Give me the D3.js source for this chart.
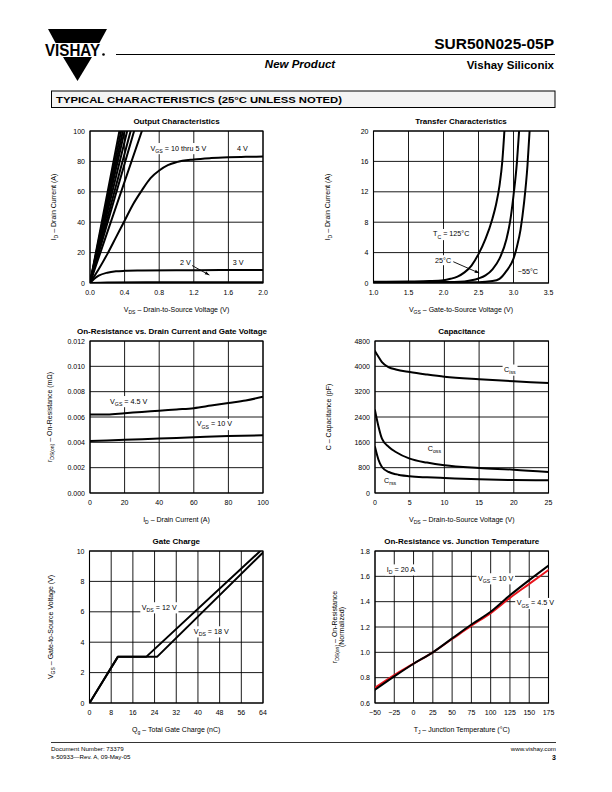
<!DOCTYPE html>
<html><head><meta charset="utf-8">
<script src="https://cdn.jsdelivr.net/npm/d3@7"></script>
<style>
body{margin:0;background:#fff}
svg{display:block}
text{font-family:"Liberation Sans",Arial,Helvetica,sans-serif;fill:#000}
</style>
</head><body>
<svg id="page" width="612" height="792"></svg>
<script>
// ---------------- DATA ----------------
// 1. Output characteristics (VDS V, ID A)
const outXTicks = [0, 0.4, 0.8, 1.2, 1.6, 2.0];
const outYTicks = [0, 20, 40, 60, 80, 100];
const outLinearVgs = ["10 V", "9 V", "8 V", "7 V", "6 V", "5 V", "4.8 V", "4.5 V"];
const outLinearEnd = [[0.34,100],[0.36,100],[0.38,100],[0.40,100],[0.43,100],[0.47,100],[0.51,100],[0.60,100]];
const out4V = [[0,0],[0.1,9],[0.2,19],[0.3,30],[0.4,41],[0.5,52],[0.6,61],[0.7,69],[0.8,74],[0.9,77.5],[1.0,79.5],[1.2,81.3],[1.4,82.2],[1.6,82.7],[1.8,83],[2.0,83.2]];
const out3V = [[0,0],[0.05,2.8],[0.1,4.8],[0.2,6.8],[0.3,7.7],[0.4,8.0],[0.6,8.2],[1.0,8.4],[1.5,8.5],[2.0,8.6]];
const out2V = [[0,0],[0.2,0.3],[1.0,0.45],[2.0,0.5]];

// 2. Transfer characteristics (VGS V, ID A)
const trXTicks = [1.0, 1.5, 2.0, 2.5, 3.0, 3.5];
const trYTicks = [0, 4, 8, 12, 16, 20];
const tr125 = [[1.0,0.15],[1.5,0.2],[1.8,0.25],[2.0,0.35],[2.1,0.55],[2.2,0.85],[2.3,1.4],[2.4,2.3],[2.5,3.8],[2.6,5.8],[2.7,8.5],[2.75,10.3],[2.8,12.8],[2.84,16],[2.87,20]];
const tr25 = [[1.0,0.1],[2.0,0.12],[2.3,0.2],[2.4,0.35],[2.5,0.6],[2.6,1.0],[2.7,1.8],[2.8,3.2],[2.9,5.8],[2.95,8],[3.0,11.5],[3.05,16],[3.08,20]];
const trM55 = [[1.0,0.05],[2.5,0.1],[2.7,0.25],[2.8,0.55],[2.9,1.6],[3.0,3.2],[3.05,4.8],[3.1,7],[3.15,10.5],[3.2,15.5],[3.23,20]];

// 3. On-resistance vs drain current (ID A, rDS ohm)
const rdXTicks = [0, 20, 40, 60, 80, 100];
const rdYTicks = [0, 0.002, 0.004, 0.006, 0.008, 0.010, 0.012];
const rd45 = [[0,0.0062],[10,0.0062],[20,0.0063],[30,0.0064],[40,0.0065],[50,0.0066],[60,0.0067],[70,0.0069],[80,0.0071],[90,0.0073],[100,0.0076]];
const rd10 = [[0,0.0041],[20,0.0042],[40,0.0043],[60,0.0044],[80,0.0045],[100,0.00455]];

// 4. Capacitance (VDS V, C pF)
const capXTicks = [0, 5, 10, 15, 20, 25];
const capYTicks = [0, 800, 1600, 2400, 3200, 4000, 4800];
const capCiss = [[0,4480],[0.5,4300],[1,4130],[2,3970],[3,3900],[5,3820],[7.5,3740],[10,3670],[15,3590],[20,3530],[25,3470]];
const capCoss = [[0,2610],[0.5,2100],[1,1716],[2,1453],[3,1295],[5,1084],[7.5,960],[10,874],[15,790],[20,737],[25,663]];
const capCrss = [[0,1453],[0.5,1050],[1,821],[2,663],[3,590],[5,526],[7.5,495],[10,474],[15,432],[20,410],[25,400]];

// 5. Gate charge (Qg nC, VGS V)
const gcXTicks = [0, 8, 16, 24, 32, 40, 48, 56, 64];
const gcYTicks = [0, 2, 4, 6, 8, 10];
const gc12 = [[0,0],[10.5,3.05],[21,3.05],[63,10]];
const gc18 = [[0,0],[10.5,3.05],[25,3.05],[64,9.9]];

// 6. Normalized on-resistance vs junction temperature (TJ C)
const tjXTicks = [-50, -25, 0, 25, 50, 75, 100, 125, 150, 175];
const tjYTicks = [0.6, 0.8, 1.0, 1.2, 1.4, 1.6, 1.8];
const tj10 = [[-50,0.705],[-25,0.81],[0,0.91],[25,1.0],[50,1.11],[75,1.22],[100,1.32],[125,1.45],[150,1.57],[175,1.685]];
const tj45 = [[-50,0.72],[-25,0.82],[0,0.91],[25,1.0],[50,1.105],[75,1.21],[100,1.31],[125,1.43],[150,1.54],[175,1.65]];

// ---------------- DRAWING ----------------
const svg = d3.select("#page");
const FONT = 7;

// header
const logo = svg.append("g").attr("transform","translate(-3,0)");
logo.append("path").attr("d","M51,29 L110,29 L102.4,43 L58.6,43 Z").attr("fill","#000");
logo.append("path").attr("d","M66,57 L95,57 L80.5,81 Z").attr("fill","#000");
logo.append("text").attr("x",48).attr("y",55.5).attr("font-size",16.5).attr("font-weight",900)
  .attr("textLength",55).attr("lengthAdjust","spacingAndGlyphs").text("VISHAY");
logo.append("circle").attr("cx",106.5).attr("cy",54.5).attr("r",1.3).attr("fill","#000");

svg.append("text").attr("x",554).attr("y",49).attr("text-anchor","end").attr("font-size",15.5).attr("font-weight","bold").text("SUR50N025-05P");
svg.append("line").attr("x1",116).attr("x2",555).attr("y1",54.5).attr("y2",54.5).attr("stroke","#000").attr("stroke-width",1);
svg.append("text").attr("x",300).attr("y",68).attr("text-anchor","middle").attr("font-size",11.5).attr("font-weight","bold").attr("font-style","italic").text("New Product");
svg.append("text").attr("x",554).attr("y",69).attr("text-anchor","end").attr("font-size",11.5).attr("font-weight","bold").text("Vishay Siliconix");
svg.append("rect").attr("x",51.5).attr("y",91).attr("width",503.5).attr("height",16.5).attr("fill","#f3f3f3").attr("stroke","#000").attr("stroke-width",1);
svg.append("text").attr("x",56).attr("y",102.8).attr("font-size",9.2).attr("font-weight",900)
  .attr("textLength",286).attr("lengthAdjust","spacingAndGlyphs").text("TYPICAL CHARACTERISTICS (25°C UNLESS NOTED)");

// footer
svg.append("line").attr("x1",51).attr("x2",556).attr("y1",742.5).attr("y2",742.5).attr("stroke","#000").attr("stroke-width",0.8);
svg.append("text").attr("x",51).attr("y",751).attr("font-size",6.2).text("Document Number:  73379");
svg.append("text").attr("x",51).attr("y",759).attr("font-size",6.2).text("s-50933—Rev. A, 09-May-05");
svg.append("text").attr("x",556).attr("y",751).attr("text-anchor","end").attr("font-size",6.2).text("www.vishay.com");
svg.append("text").attr("x",556).attr("y",760).attr("text-anchor","end").attr("font-size",7).attr("font-weight","bold").text("3");

// helpers
function richText(g, x, y, parts, size, anchor, bg) {
  const t = g.append("text").attr("x", x).attr("y", y).attr("font-size", size)
    .attr("text-anchor", anchor || "start");
  parts.forEach(p => {
    if (typeof p === "string") t.append("tspan").text(p);
    else t.append("tspan").attr("font-size", size * 0.72).attr("dy", size*0.3).text(p.sub);
  });
  let shift = 0;
  t.selectAll("tspan").each(function(){
    const el = d3.select(this);
    if (el.attr("dy")) { shift += +el.attr("dy"); }
    else if (shift !== 0) { el.attr("dy", -shift); shift = 0; }
  });
  if (bg) {
    const bb = t.node().getBBox();
    g.insert("rect", () => t.node()).attr("x", bb.x - 1.5).attr("y", bb.y - 0.5)
      .attr("width", bb.width + 3).attr("height", bb.height + 1).attr("fill", "#fff");
  }
  return t;
}

let clipId = 0;
function panel(o) {
  const g = svg.append("g");
  const x = d3.scaleLinear().domain(o.xDom).range([o.l, o.r]);
  const y = d3.scaleLinear().domain(o.yDom).range([o.b, o.t]);
  g.append("g").selectAll("line").data(o.xTicks).join("line")
    .attr("x1", d => x(d)).attr("x2", d => x(d)).attr("y1", o.t).attr("y2", o.b)
    .attr("stroke", "#000").attr("stroke-width", 0.9);
  g.append("g").selectAll("line").data(o.yTicks).join("line")
    .attr("y1", d => y(d)).attr("y2", d => y(d)).attr("x1", o.l).attr("x2", o.r)
    .attr("stroke", "#000").attr("stroke-width", 0.9);
  g.append("rect").attr("x", o.l).attr("y", o.t).attr("width", o.r - o.l).attr("height", o.b - o.t)
    .attr("fill", "none").attr("stroke", "#000").attr("stroke-width", 1.1);
  g.append("g").selectAll("text").data(o.xTicks).join("text")
    .attr("x", d => x(d)).attr("y", o.b + 11.5).attr("text-anchor", "middle").attr("font-size", FONT)
    .text(o.xFmt);
  g.append("g").selectAll("text").data(o.yTicks).join("text")
    .attr("x", o.l - 5).attr("y", d => y(d) + 2.5).attr("text-anchor", "end").attr("font-size", FONT)
    .text(o.yFmt);
  g.append("text").attr("x", o.titleX != null ? o.titleX : (o.l + o.r) / 2).attr("y", o.t - 7)
    .attr("text-anchor", "middle").attr("font-size", 8).attr("font-weight", "bold").text(o.title);
  richText(g, (o.l + o.r) / 2, o.b + 28.5, o.xTitle, FONT, "middle");
  o.yTitles.forEach(yt => {
    const gg = g.append("g").attr("transform", `translate(${yt.x},${(o.t + o.b) / 2}) rotate(-90)`);
    richText(gg, 0, 0, yt.parts, FONT, "middle");
  });
  const id = "clip" + (clipId++);
  svg.append("clipPath").attr("id", id).append("rect")
    .attr("x", o.l).attr("y", o.t).attr("width", o.r - o.l).attr("height", o.b - o.t);
  const plot = g.append("g").attr("clip-path", `url(#${id})`);
  return { g, x, y, plot };
}

function curve(p, data, opts) {
  opts = opts || {};
  const line = d3.line().x(d => p.x(d[0])).y(d => p.y(d[1]))
    .curve(opts.linear ? d3.curveLinear : d3.curveMonotoneX);
  p.plot.append("path").attr("d", line(data)).attr("fill", "none")
    .attr("stroke", opts.color || "#000").attr("stroke-width", opts.w || 2)
    .attr("stroke-linejoin", "round").attr("stroke-linecap", "round");
}
function label(p, dx, dy, parts, bg) {
  return richText(p.g, p.x(dx), p.y(dy) + 2.5, parts, 7.2, "start", bg);
}
function arrow(p, a, b) {
  const x1 = p.x(a[0]), y1 = p.y(a[1]), x2 = p.x(b[0]), y2 = p.y(b[1]);
  p.g.append("line").attr("x1", x1).attr("y1", y1).attr("x2", x2).attr("y2", y2)
    .attr("stroke", "#000").attr("stroke-width", 0.9);
  const ang = Math.atan2(y2 - y1, x2 - x1), L = 4.5, W = 1.6;
  const bx = x2 - L * Math.cos(ang), by = y2 - L * Math.sin(ang);
  p.g.append("path").attr("d",
    `M${x2},${y2} L${bx + W * Math.sin(ang)},${by - W * Math.cos(ang)} L${bx - W * Math.sin(ang)},${by + W * Math.cos(ang)} Z`)
    .attr("fill", "#000");
}

const f1 = d3.format(".1f");

// ---- Panel 1: Output Characteristics
const p1 = panel({l:90, r:263, t:131, b:283, xDom:[0,2], yDom:[0,100],
  xTicks: outXTicks, yTicks: outYTicks, xFmt: f1, yFmt: d => d,
  title: "Output Characteristics",
  xTitle: ["V", {sub:"DS"}, "  –  Drain-to-Source Voltage (V)"],
  yTitles: [{x:56, parts:["I", {sub:"D"}, "  –  Drain Current (A)"]}]});
outLinearEnd.forEach(e => curve(p1, [[0,0], e], {linear:true}));
curve(p1, out4V); curve(p1, out3V); curve(p1, out2V, {w:2.2});
label(p1, 0.70, 88.8, ["V", {sub:"GS"}, " = 10 thru 5 V"], true);
label(p1, 1.70, 88.8, ["4 V"], true);
label(p1, 1.04, 13.5, ["2 V"], true);
label(p1, 1.65, 13.5, ["3 V"], true);
arrow(p1, [1.18, 11.5], [1.38, 5.2]);

// ---- Panel 2: Transfer Characteristics
const p2 = panel({l:373.5, r:548.5, t:131, b:283, xDom:[1,3.5], yDom:[0,20],
  xTicks: trXTicks, yTicks: trYTicks, xFmt: f1, yFmt: d => d,
  title: "Transfer Characteristics",
  xTitle: ["V", {sub:"GS"}, "  –  Gate-to-Source Voltage (V)"],
  yTitles: [{x:330, parts:["I", {sub:"D"}, "  –  Drain Current (A)"]}]});
curve(p2, tr125); curve(p2, tr25); curve(p2, trM55);
label(p2, 1.85, 6.45, ["T", {sub:"C"}, " = 125°C"], true);
label(p2, 1.88, 3.0, ["25°C"], true);
label(p2, 3.06, 1.45, ["−55°C"], true);
arrow(p2, [2.14, 2.8], [2.51, 1.3]);

// ---- Panel 3: On-Resistance vs Drain Current
const p3 = panel({l:90, r:263, t:341, b:493, xDom:[0,100], yDom:[0,0.012],
  xTicks: rdXTicks, yTicks: rdYTicks, xFmt: d => d, yFmt: d3.format(".3f"),
  title: "On-Resistance vs. Drain Current and Gate Voltage", titleX: 172,
  xTitle: ["I", {sub:"D"}, "  –  Drain Current (A)"],
  yTitles: [{x:52, parts:["r", {sub:"DS(on)"}, " – On-Resistance (mΩ)"]}]});
curve(p3, rd45); curve(p3, rd10);
label(p3, 11.6, 0.00726, ["V", {sub:"GS"}, " = 4.5 V"], true);
label(p3, 61.7, 0.00545, ["V", {sub:"GS"}, " = 10 V"], true);

// ---- Panel 4: Capacitance
const p4 = panel({l:375, r:548.5, t:341, b:493, xDom:[0,25], yDom:[0,4800],
  xTicks: capXTicks, yTicks: capYTicks, xFmt: d => d, yFmt: d => d,
  title: "Capacitance",
  xTitle: ["V", {sub:"DS"}, "  –  Drain-to-Source Voltage (V)"],
  yTitles: [{x:331, parts:["C  –  Capacitance (pF)"]}]});
curve(p4, capCiss); curve(p4, capCoss); curve(p4, capCrss);
label(p4, 18.6, 3900, ["C", {sub:"iss"}], true);
label(p4, 7.6, 1400, ["C", {sub:"oss"}], true);
label(p4, 1.3, 390, ["C", {sub:"rss"}], true);

// ---- Panel 5: Gate Charge
const p5 = panel({l:89.5, r:263, t:551, b:703, xDom:[0,64], yDom:[0,10],
  xTicks: gcXTicks, yTicks: gcYTicks, xFmt: d => d, yFmt: d => d,
  title: "Gate Charge",
  xTitle: ["Q", {sub:"g"}, "  –  Total Gate Charge (nC)"],
  yTitles: [{x:53, parts:["V", {sub:"GS"}, "  –  Gate-to-Source Voltage (V)"]}]});
curve(p5, gc12, {linear:true}); curve(p5, gc18, {linear:true});
label(p5, 19.3, 6.3, ["V", {sub:"DS"}, " = 12 V"], true);
label(p5, 38.5, 4.72, ["V", {sub:"DS"}, " = 18 V"], true);

// ---- Panel 6: On-Resistance vs Junction Temperature
const p6 = panel({l:375, r:548.5, t:551, b:703, xDom:[-50,175], yDom:[0.6,1.8],
  xTicks: tjXTicks, yTicks: tjYTicks, xFmt: d => d < 0 ? "−" + (-d) : d, yFmt: f1,
  title: "On-Resistance vs. Junction Temperature",
  xTitle: ["T", {sub:"J"}, " – Junction Temperature (°C)"],
  yTitles: [{x:337, parts:["r", {sub:"DS(on)"}, " – On-Resistance"]}, {x:344, parts:["(Normalized)"]}]});
curve(p6, tj45, {color:"#e8141c", w:2}); curve(p6, tj10, {w:2});
label(p6, -34.8, 1.655, ["I", {sub:"D"}, " = 20 A"], true);
label(p6, 83.6, 1.585, ["V", {sub:"GS"}, " = 10 V"], true);
label(p6, 133.8, 1.39, ["V", {sub:"GS"}, " = 4.5 V"], true);
</script>
</body></html>
